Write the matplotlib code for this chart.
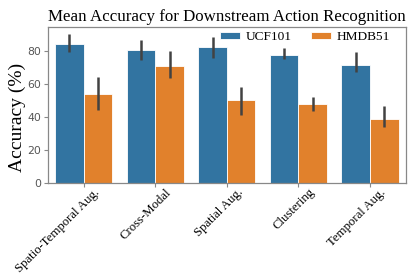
import matplotlib
matplotlib.use("Agg")
import matplotlib.pyplot as plt
import matplotlib.transforms as mtransforms
import numpy as np

categories = ["Spatio-Temporal Aug.", "Cross-Modal", "Spatial Aug.", "Clustering", "Temporal Aug."]
series_names = ["UCF101", "HMDB51"]
ucf_mean = [84.2, 80.3, 82.3, 77.8, 71.7]
ucf_low = [79.2, 74.4, 75.6, 75.0, 67.0]
ucf_high = [90.2, 86.6, 88.2, 81.8, 79.2]
hmdb_mean = [53.9, 71.0, 50.5, 47.8, 38.8]
hmdb_low = [44.0, 63.6, 41.0, 43.8, 33.9]
hmdb_high = [64.0, 80.0, 58.4, 51.9, 46.8]

colors = ["#3274a1", "#e1812c"]

fig = plt.figure(figsize=(4.15, 2.77), dpi=100)
ax = fig.add_axes([0.1157, 0.339, 0.862, 0.5635])

x = np.arange(len(categories))
w = 0.4
for i, (mean, lo, hi) in enumerate([(ucf_mean, ucf_low, ucf_high), (hmdb_mean, hmdb_low, hmdb_high)]):
    pos = x - w / 2 + i * w
    ax.bar(pos, mean, width=w, color=colors[i], edgecolor="white", linewidth=0.6, label=series_names[i], zorder=2)
    ax.vlines(pos, lo, hi, color="#424242", linewidth=1.8, zorder=3)

ax.set_xlim(-0.5, len(categories) - 0.5)
ax.set_ylim(0, 94.5)
ax.set_yticks([0, 20, 40, 60, 80])
ax.tick_params(axis="y", labelsize=7.8, labelcolor="#555555", color="#888888", length=3, pad=2)
ax.tick_params(axis="x", color="#888888", length=3)
ax.set_xticks(x)
ax.set_xticklabels(categories, rotation=45, ha="right", rotation_mode="anchor",
                   family="Liberation Serif", fontsize=9.2)
offset = mtransforms.ScaledTranslation(10 / 100, 6 / 100, fig.dpi_scale_trans)
for lbl in ax.get_xticklabels():
    lbl.set_transform(lbl.get_transform() + offset)
for s in ax.spines.values():
    s.set_color("#888888")
    s.set_linewidth(0.9)

ax.set_ylabel("Accuracy (%)", family="Liberation Serif", fontsize=14)
ax.yaxis.set_label_coords(-0.062, 0.42)
ax.set_title("Mean Accuracy for Downstream Action Recognition", family="Liberation Serif", fontsize=12.2, pad=4)
ax.legend(loc="upper right", bbox_to_anchor=(0.99, 1.05), ncol=2, frameon=False,
          prop={"family": "Liberation Serif", "size": 9.6},
          handlelength=1.5, handleheight=0.35, columnspacing=1.5, handletextpad=0.4)

fig.savefig("out.png", dpi=100)
